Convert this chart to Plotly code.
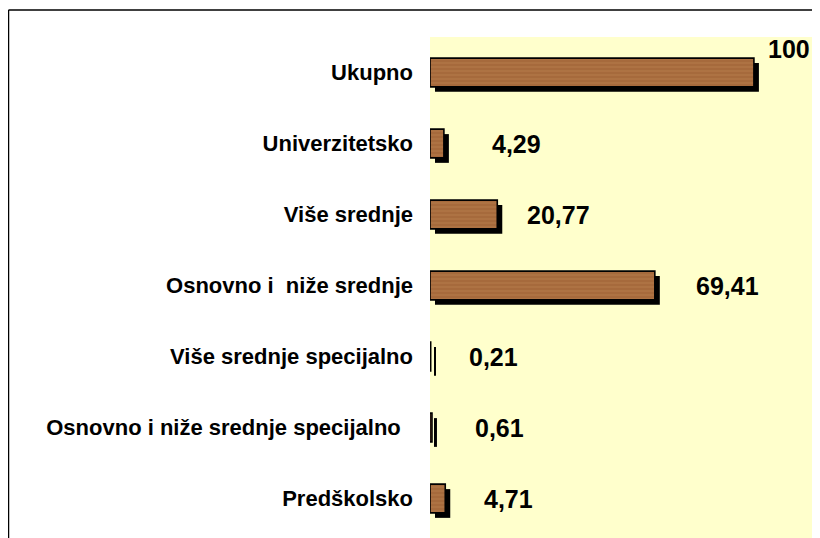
import plotly.graph_objects as go

categories = ["Ukupno", "Univerzitetsko", "Više srednje", "Osnovno i\u00a0\u00a0niže srednje",
              "Više srednje specijalno", "Osnovno i niže srednje specijalno\u00a0\u00a0", "Predškolsko"]
values = [100, 4.29, 20.77, 69.41, 0.21, 0.61, 4.71]
value_labels = ["100", "4,29", "20,77", "69,41", "0,21", "0,61", "4,71"]

# label placement (pixel shifts from bar end)
label_xshift = [12, 46, 28, 39, 36, 41, 37]
label_yshift = [24, 0, 0, 0, 0, 0, 0]

BAR_W = 0.405
SH_DX = 1.54   # shadow x offset (data units ~5px)
SH_DY = 0.07   # shadow y offset (category units ~5px)

fig = go.Figure()
fig.add_trace(go.Bar(
    orientation="h", y=categories, x=values, base=[SH_DX] * len(values),
    width=BAR_W, offset=-BAR_W / 2 + SH_DY,
    marker=dict(color="black", line=dict(width=0)), hoverinfo="skip", showlegend=False))
fig.add_trace(go.Bar(
    orientation="h", y=categories, x=values, base=[0] * len(values),
    width=BAR_W, offset=-BAR_W / 2,
    marker=dict(color="#A66A3C", line=dict(color="black", width=1.6),
                pattern=dict(shape="-", fgcolor="#BD8652", size=4, solidity=0.3,
                             fillmode="overlay")),
    showlegend=False))

for v, lab, dx, dy, c in zip(values, value_labels, label_xshift, label_yshift, categories):
    fig.add_annotation(x=v, y=c, text=lab, showarrow=False, xanchor="left", yanchor="middle",
                       xshift=dx, yshift=dy,
                       font=dict(family="Arial, Liberation Sans", size=25, color="black", weight="bold"))

# page has an 8px body margin: figure coords = screen coords - 8
L, T, W, H = 422, 29, 390, 501
fig.update_layout(
    width=812, height=530, margin=dict(l=L, r=0, t=T, b=0, pad=0),
    paper_bgcolor="white", plot_bgcolor="#FFFFCC", barmode="overlay",
    xaxis=dict(range=[0, 120.4], showgrid=False, zeroline=False, showticklabels=False,
               showline=False, ticks=""),
    yaxis=dict(range=[6.556, -0.5], showgrid=False, zeroline=False, showline=False, ticks="",
               ticklabelstandoff=16,
               tickfont=dict(family="Arial, Liberation Sans", size=22, color="black", weight="bold")),
    shapes=[
        dict(type="line", xref="paper", yref="paper",
             x0=(0.5 - L) / W, x1=(0.5 - L) / W, y0=1 + (T - 2) / H, y1=-0.1,
             line=dict(color="black", width=1.5)),
        dict(type="line", xref="paper", yref="paper",
             x0=(0.5 - L) / W, x1=1.1, y0=1 + (T - 2) / H, y1=1 + (T - 2) / H,
             line=dict(color="black", width=1.5)),
    ],
)
fig.write_html("out.html")
